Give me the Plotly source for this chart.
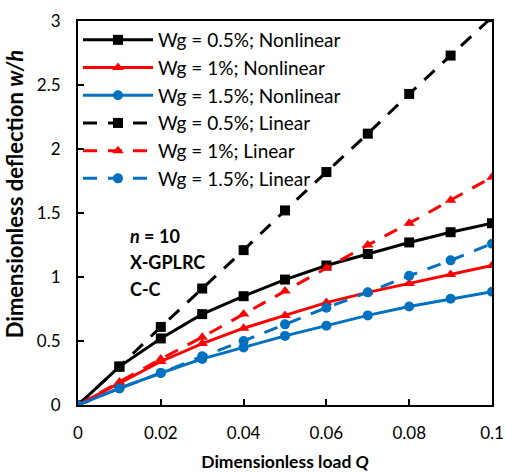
import plotly.graph_objects as go

Q = [0, 0.01, 0.02, 0.03, 0.04, 0.05, 0.06, 0.07, 0.08, 0.09, 0.1]

nl_05 = [0, 0.30, 0.52, 0.71, 0.85, 0.98, 1.09, 1.18, 1.27, 1.35, 1.42]
nl_10 = [0, 0.17, 0.34, 0.48, 0.60, 0.70, 0.80, 0.88, 0.95, 1.02, 1.09]
nl_15 = [0, 0.13, 0.25, 0.36, 0.45, 0.54, 0.62, 0.70, 0.77, 0.83, 0.885]

li_05 = [0, 0.30, 0.61, 0.91, 1.21, 1.52, 1.82, 2.12, 2.43, 2.73, 3.03]
li_10 = [0, 0.18, 0.36, 0.53, 0.71, 0.89, 1.07, 1.25, 1.42, 1.60, 1.78]
li_15 = [0, 0.13, 0.25, 0.38, 0.50, 0.63, 0.76, 0.88, 1.01, 1.13, 1.26]

names = ["Wg = 0.5%; Nonlinear", "Wg = 1%; Nonlinear", "Wg = 1.5%; Nonlinear",
         "Wg = 0.5%; Linear", "Wg = 1%; Linear", "Wg = 1.5%; Linear"]

x_ticks = [0, 0.02, 0.04, 0.06, 0.08, 0.1]
x_ticktext = ["0", "0.02", "0.04", "0.06", "0.08", "0.1"]
y_ticks = [0, 0.5, 1, 1.5, 2, 2.5, 3]
y_ticktext = ["0", "0.5", "1", "1.5", "2", "2.5", "3"]

info_lines = ["<b><i>n</i> = 10</b>", "<b>X-GPLRC</b>", "<b>C-C</b>"]

BLACK = "#000000"
RED = "#FF0000"
BLUE = "#0070C0"
FONT = "Lato, Open Sans, sans-serif"

series = [
    (nl_05, names[0], BLACK, "square", "solid"),
    (nl_10, names[1], RED, "triangle-up", "solid"),
    (nl_15, names[2], BLUE, "circle", "solid"),
    (li_05, names[3], BLACK, "square", "14px,11px"),
    (li_10, names[4], RED, "triangle-up", "14px,11px"),
    (li_15, names[5], BLUE, "circle", "14px,11px"),
]

fig = go.Figure()
for y, name, color, sym, dash in series:
    fig.add_trace(go.Scatter(
        x=Q, y=y, name=name, mode="lines+markers",
        line=dict(color=color, width=3, dash=dash),
        marker=dict(symbol=sym, size=10, color=color),
    ))

for txt, yp in zip(info_lines, [0.440, 0.372, 0.302]):
    fig.add_annotation(
        x=0.0121, xref="x", y=yp, yref="paper", xanchor="left", yanchor="middle",
        text=txt, showarrow=False, align="left",
        font=dict(family=FONT, size=18, color="black"),
    )

# y-axis title (as in the reference, placed slightly above centre and cut at the page edge)
fig.add_annotation(
    x=(14 - 78) / 414, xref="paper", y=0.549, yref="paper", xanchor="center", yanchor="middle",
    text="<b>Dimensionless deflection <i>w/h</i></b>", textangle=-90, showarrow=False,
    font=dict(family=FONT, size=22, color="black"),
)
fig.add_shape(
    type="rect", xref="paper", yref="paper", x0=-78 / 414, x1=(10 - 78) / 414,
    y0=-0.2, y1=1.1, fillcolor="white", line=dict(width=0), layer="above",
)

axis_common = dict(
    showgrid=False, zeroline=False, showline=True, linecolor="black",
    linewidth=2, mirror=True, ticks="inside", ticklen=6, tickwidth=2,
    tickcolor="black", tickfont=dict(family=FONT, size=17, color="black"),
    ticklabelstandoff=12,
)

fig.update_xaxes(
    range=[0, 0.1], tickvals=x_ticks, ticktext=x_ticktext,
    title=dict(text="<b>Dimensionless load <i>Q</i></b>",
               font=dict(family=FONT, size=17.5, color="black"), standoff=18),
    **axis_common,
)
fig.update_yaxes(
    range=[0, 3], tickvals=y_ticks, ticktext=y_ticktext,
    **axis_common,
)

fig.update_layout(
    width=506, height=472,
    margin=dict(l=78, r=14, t=21, b=67, autoexpand=False),
    paper_bgcolor="white", plot_bgcolor="white",
    showlegend=True,
    legend=dict(
        x=0.0, y=1.0, xanchor="left", yanchor="top",
        bgcolor="rgba(0,0,0,0)", itemwidth=70,
        font=dict(family=FONT, size=19, color="black"),
        tracegroupgap=0,
    ),
)

fig.write_html("out.html")
